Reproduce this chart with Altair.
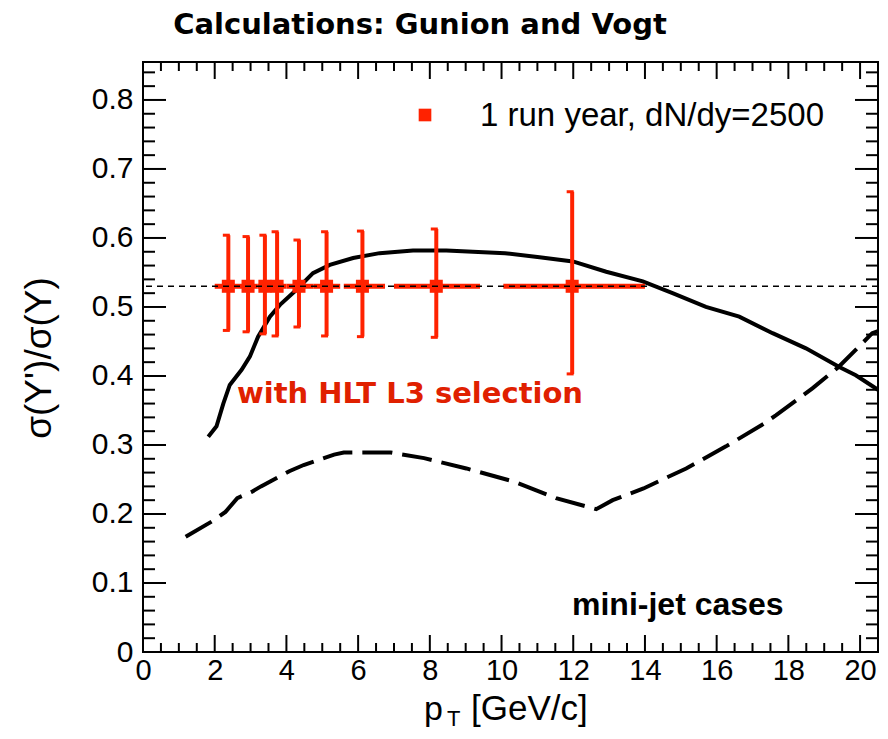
import altair as alt
import pandas as pd

# ---------------- data ----------------
SOLID_X = [1.82, 2.05, 2.24, 2.42, 2.75, 2.98, 3.21, 3.54, 3.82, 4.28, 4.74, 5.21, 5.86, 6.60,
           7.53, 8.46, 9.20, 10.10, 11.06, 11.99, 12.92, 13.94, 14.77, 15.70, 16.63, 17.56,
           18.49, 19.42, 19.88, 20.50]
SOLID_Y = [0.312, 0.327, 0.360, 0.387, 0.409, 0.428, 0.457, 0.486, 0.503, 0.525, 0.549, 0.561,
           0.571, 0.578, 0.582, 0.582, 0.580, 0.578, 0.572, 0.566, 0.551, 0.537, 0.520, 0.500,
           0.486, 0.462, 0.440, 0.413, 0.401, 0.380]

DASH_X = [1.19, 1.98, 2.30, 2.63, 3.03, 3.29, 4.08, 4.48, 5.33, 5.60, 6.52, 6.91, 7.84, 9.02,
          10.34, 11.52, 12.64, 13.10, 13.96, 15.15, 16.26, 17.32, 17.65, 18.67, 19.40, 20.34, 20.50]
DASH_Y = [0.167, 0.191, 0.203, 0.223, 0.232, 0.240, 0.262, 0.271, 0.286, 0.289, 0.289, 0.289,
          0.281, 0.266, 0.247, 0.223, 0.207, 0.220, 0.237, 0.266, 0.298, 0.331, 0.343, 0.382,
          0.413, 0.462, 0.465]

PT_X = [2.38, 2.93, 3.40, 3.74, 4.35, 5.12, 6.12, 8.18, 11.97]
PT_Y = [0.53, 0.53, 0.53, 0.53, 0.53, 0.53, 0.53, 0.53, 0.53]
PT_YLO = [0.466, 0.464, 0.461, 0.458, 0.471, 0.458, 0.457, 0.456, 0.403]
PT_YHI = [0.604, 0.602, 0.604, 0.609, 0.597, 0.609, 0.610, 0.613, 0.667]
PT_XLO = [2.00, 2.65, 3.20, 3.55, 4.00, 4.75, 5.60, 7.00, 10.05]
PT_XHI = [2.65, 3.20, 3.55, 4.00, 4.75, 5.50, 6.75, 9.40, 14.00]

REF_LEVEL = 0.53

X_MAJOR = [0, 2, 4, 6, 8, 10, 12, 14, 16, 18, 20]
X_MINOR = [i * 0.5 for i in range(0, 42) if i % 4 != 0]
Y_MAJOR = [0.0, 0.1, 0.2, 0.3, 0.4, 0.5, 0.6, 0.7, 0.8]
Y_MINOR = [round(i * 0.02, 2) for i in range(0, 43) if i % 5 != 0]

TITLE = "Calculations: Gunion and Vogt"
LEGEND_LABEL = "1 run year, dN/dy=2500"
NOTE_RED = "with HLT L3 selection"
NOTE_BLACK = "mini-jet cases"
Y_TITLE = "σ(Υ')/σ(Υ)"
X_TITLE_MAIN = "p"
X_TITLE_SUB = "T"
X_TITLE_REST = "[GeV/c]"

RED = "#ff2200"
TEXT_RED = "#e02000"
W, H = 735, 590

xs = alt.Scale(domain=[0, 20.5], nice=False, zero=False)
ys = alt.Scale(domain=[0, 0.855], nice=False, zero=False)

solid_df = pd.DataFrame({"x": SOLID_X, "y": SOLID_Y})
dash_df = pd.DataFrame({"x": DASH_X, "y": DASH_Y})
pts_df = pd.DataFrame({"x": PT_X, "y": PT_Y, "ylo": PT_YLO, "yhi": PT_YHI,
                       "xlo": PT_XLO, "xhi": PT_XHI})
xmaj = pd.DataFrame({"v": X_MAJOR})
xmin = pd.DataFrame({"v": X_MINOR})
ymaj = pd.DataFrame({"v": Y_MAJOR})
ymin = pd.DataFrame({"v": Y_MINOR})

x_axis = alt.Axis(values=X_MAJOR, title=None, tickSize=0, domain=False, grid=False,
                  labelFontSize=29, labelFont="Liberation Sans", labelColor="black",
                  labelPadding=4, labelFlush=False, labelOverlap=False, format="d")
y_axis = alt.Axis(values=Y_MAJOR, title=None, tickSize=0, domain=False, grid=False,
                  labelFontSize=30, labelFont="Liberation Sans", labelColor="black",
                  labelPadding=10, labelFlush=False, labelOverlap=False, format=".1~f")


def X(field, **kw):
    return alt.X(field, scale=xs, axis=x_axis, **kw)


def Y(field, **kw):
    return alt.Y(field, scale=ys, axis=y_axis, **kw)


# ticks (inward, on all four sides)
tick_style = dict(color="black", strokeWidth=2)
bottom_major = alt.Chart(xmaj).mark_rule(**tick_style).encode(
    x=X("v:Q"), y=alt.value(H), y2=alt.value(H - 17))
bottom_minor = alt.Chart(xmin).mark_rule(**tick_style).encode(
    x=X("v:Q"), y=alt.value(H), y2=alt.value(H - 9))
top_major = alt.Chart(xmaj).mark_rule(**tick_style).encode(
    x=X("v:Q"), y=alt.value(0), y2=alt.value(17))
top_minor = alt.Chart(xmin).mark_rule(**tick_style).encode(
    x=X("v:Q"), y=alt.value(0), y2=alt.value(9))
left_major = alt.Chart(ymaj).mark_rule(**tick_style).encode(
    y=Y("v:Q"), x=alt.value(0), x2=alt.value(23))
left_minor = alt.Chart(ymin).mark_rule(**tick_style).encode(
    y=Y("v:Q"), x=alt.value(0), x2=alt.value(12))
right_major = alt.Chart(ymaj).mark_rule(**tick_style).encode(
    y=Y("v:Q"), x=alt.value(W), x2=alt.value(W - 23))
right_minor = alt.Chart(ymin).mark_rule(**tick_style).encode(
    y=Y("v:Q"), x=alt.value(W), x2=alt.value(W - 12))

# curves
solid = alt.Chart(solid_df).mark_line(color="black", strokeWidth=4).encode(
    x=X("x:Q"), y=Y("y:Q"))
dashed = alt.Chart(dash_df).mark_line(color="black", strokeWidth=4, strokeDash=[30, 10],
                                      strokeCap="butt").encode(
    x=X("x:Q"), y=Y("y:Q"))

# red points with error bars
vbars = alt.Chart(pts_df).mark_rule(color=RED, strokeWidth=4).encode(
    x=X("x:Q"), y=Y("ylo:Q"), y2="yhi:Q")
hbars = alt.Chart(pts_df).mark_rule(color=RED, strokeWidth=5).encode(
    x=X("xlo:Q"), x2="xhi:Q", y=Y("y:Q"))
cap_hi = alt.Chart(pts_df).mark_tick(color=RED, orient="horizontal", size=7, thickness=3,
                                     xOffset=-2, opacity=1).encode(
    x=X("x:Q"), y=Y("yhi:Q"))
cap_lo = alt.Chart(pts_df).mark_tick(color=RED, orient="horizontal", size=7, thickness=3,
                                     xOffset=-2, opacity=1).encode(
    x=X("x:Q"), y=Y("ylo:Q"))
markers = alt.Chart(pts_df).mark_square(color=RED, size=170, opacity=1).encode(
    x=X("x:Q"), y=Y("y:Q"))

ref_line = alt.Chart(pd.DataFrame({"r": [REF_LEVEL]})).mark_rule(
    color="black", strokeWidth=1.5, strokeDash=[6, 5]).encode(y=Y("r:Q"))

# legend
leg_df = pd.DataFrame({"label": [LEGEND_LABEL]})
leg_sym = alt.Chart(leg_df).mark_square(color=RED, size=160, opacity=1).encode(
    x=alt.value(282), y=alt.value(53))
leg_txt = alt.Chart(leg_df).mark_text(align="left", baseline="middle", font="Liberation Sans",
                                      fontSize=33, color="black").encode(
    x=alt.value(337), y=alt.value(54), text="label:N")


# annotations
def label(text, **kw):
    return alt.Chart(pd.DataFrame({"t": [text]})).mark_text(**kw)


note_red = label(NOTE_RED, align="left", baseline="alphabetic", font="DejaVu Sans",
                 fontWeight="bold", fontSize=29, color=TEXT_RED).encode(
    x=alt.value(94), y=alt.value(341), text="t:N")
note_black = label(NOTE_BLACK, align="left", baseline="alphabetic", font="Liberation Sans",
                   fontWeight="bold", fontSize=32, color="black").encode(
    x=alt.value(429), y=alt.value(553), text="t:N")
title = label(TITLE, align="center", baseline="alphabetic", font="DejaVu Sans",
              fontWeight="bold", fontSize=29, color="black").encode(
    x=alt.value(277), y=alt.value(-28), text="t:N")
ytitle = label(Y_TITLE, align="center", baseline="middle", font="Liberation Sans",
               fontSize=37, angle=270, color="black").encode(
    x=alt.value(-103), y=alt.value(296), text="t:N")
xt_main = label(X_TITLE_MAIN, align="left", baseline="alphabetic", font="Liberation Sans",
                fontSize=34, color="black").encode(
    x=alt.value(281), y=alt.value(658), text="t:N")
xt_sub = label(X_TITLE_SUB, align="left", baseline="alphabetic", font="Liberation Sans",
               fontSize=22, color="black").encode(
    x=alt.value(304), y=alt.value(664), text="t:N")
xt_rest = label(X_TITLE_REST, align="left", baseline="alphabetic", font="Liberation Sans",
                fontSize=35, color="black").encode(
    x=alt.value(328), y=alt.value(658), text="t:N")

chart = alt.layer(
    bottom_major, bottom_minor, top_major, top_minor,
    left_major, left_minor, right_major, right_minor,
    solid, dashed, hbars, vbars, cap_hi, cap_lo, markers, ref_line,
    leg_sym, leg_txt, note_red, note_black, title, ytitle, xt_main, xt_sub, xt_rest,
).properties(
    width=W, height=H,
    autosize=alt.AutoSizeParams(type="none"),
    padding={"left": 135, "top": 54, "right": 2, "bottom": 79},
    background="white",
).configure_view(stroke="black", strokeWidth=2)

chart.save("out.html", embed_options={"renderer": "svg", "actions": False})
